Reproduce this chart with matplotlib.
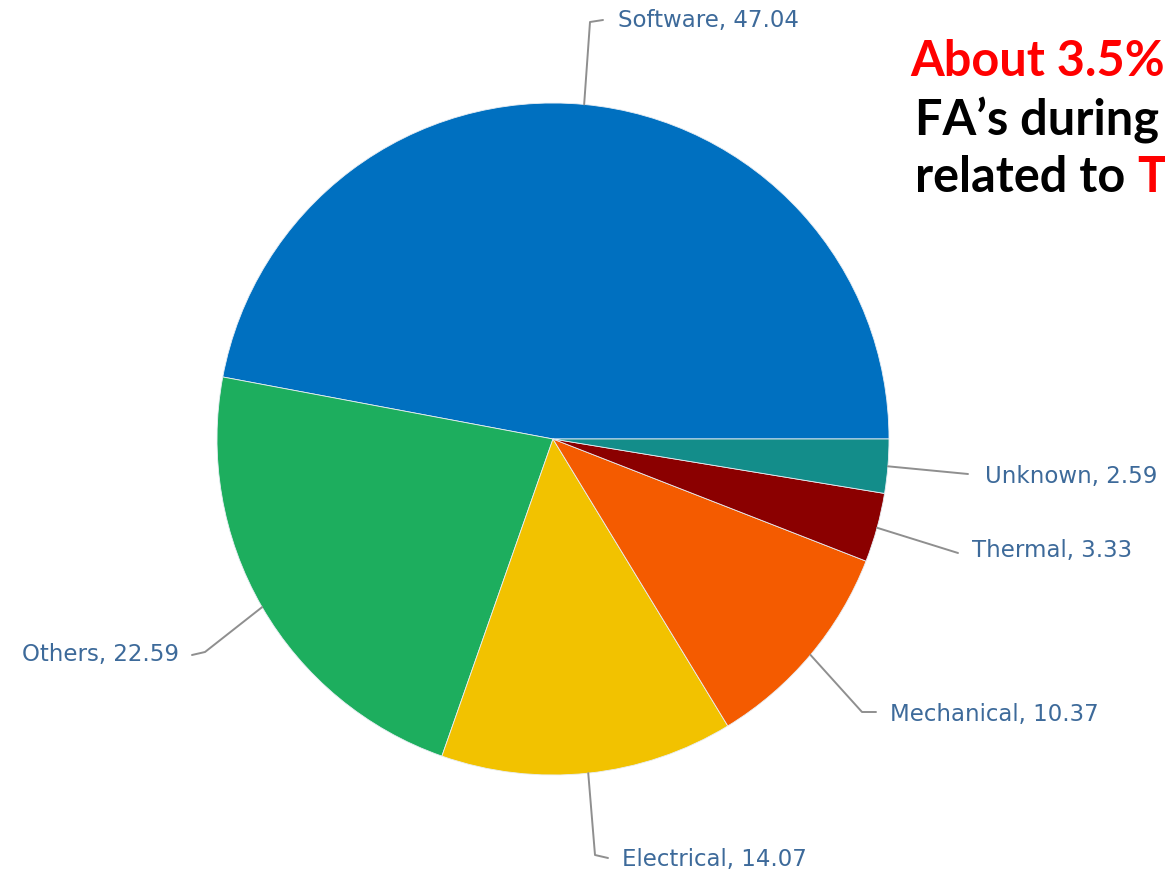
import numpy as np
import matplotlib.pyplot as plt

# slice data (percent)
categories = ['Software', 'Others', 'Electrical', 'Mechanical', 'Thermal', 'Unknown']
values = [47.04, 22.59, 14.07, 10.37, 3.33, 2.59]
colors = ['#0070c0', '#1dae5e', '#f2c200', '#f45b00', '#8b0000', '#138d8a']

W, H = 1165, 871
fig = plt.figure(figsize=(W / 100, H / 100), dpi=100)
ax = fig.add_axes([0, 0, 1, 1])

cx, cy, r = 553, H - 439, 336
wedges, _ = ax.pie(values, colors=colors, startangle=0, counterclock=True,
                   center=(cx, cy), radius=r, frame=True,
                   wedgeprops=dict(edgecolor='#e8eef4', linewidth=0.6))
ax.set_xlim(0, W)
ax.set_ylim(0, H)
ax.set_aspect('equal')
ax.axis('off')

# leader elbows and label spots, in pixel coords from top-left
elbows = {
    'Software': [(590, 22), (603, 20)],
    'Others': [(205, 652), (192, 655)],
    'Electrical': [(595, 855), (608, 858)],
    'Mechanical': [(862, 712), (876, 712)],
    'Thermal': [(958, 553)],
    'Unknown': [(968, 474)],
}
spots = {
    'Software': (618, 21, 'left'),
    'Others': (179, 654, 'right'),
    'Electrical': (622, 859, 'left'),
    'Mechanical': (890, 714, 'left'),
    'Thermal': (972, 551, 'left'),
    'Unknown': (985, 476, 'left'),
}

for w, name, v in zip(wedges, categories, values):
    mid = np.deg2rad((w.theta1 + w.theta2) / 2)
    x0 = cx + r * np.cos(mid)
    y0 = cy + r * np.sin(mid)
    xs = [x0] + [p[0] for p in elbows[name]]
    ys = [y0] + [H - p[1] for p in elbows[name]]
    ax.plot(xs, ys, color='#8f8f8f', lw=1.4, solid_capstyle='round')
    tx, ty, ha = spots[name]
    ax.text(tx, H - ty, f'{name}, {v:.2f}', ha=ha, va='center',
            fontsize=16.5, color='#3d6a9a', family='DejaVu Sans')

# callout text, cut off at the right edge like the slide
fs = 35
ax.text(910, H - 76, 'About 3.5%', color='#ff0000', fontsize=fs,
        fontweight='bold', family='Lato', va='baseline')
ax.text(915, H - 135, 'FA\u2019s during', color='black', fontsize=fs,
        fontweight='bold', family='Lato', va='baseline')
t = ax.text(915, H - 192, 'related to ', color='black', fontsize=fs,
            fontweight='bold', family='Lato', va='baseline')
ax.annotate('T', xycoords=t, xy=(1, 0), va='bottom',
            color='#ff0000', fontsize=fs, fontweight='bold', family='Lato')

fig.savefig('out.png', dpi=100)
